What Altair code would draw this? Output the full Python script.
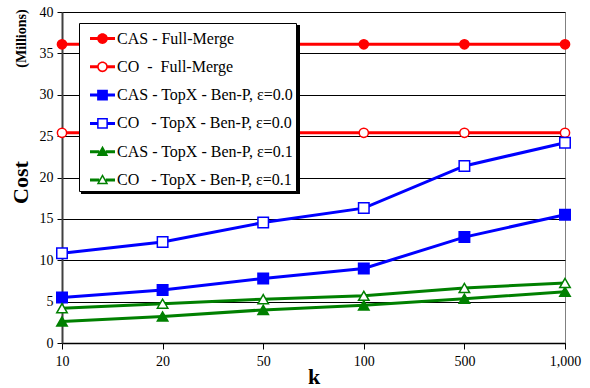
import altair as alt
import pandas as pd

# ---- data ----
k_labels = ["10", "20", "50", "100", "500", "1,000"]

series_names = [
    "CAS - Full-Merge",
    "CO\u00a0 -\u00a0 Full-Merge",
    "CAS - TopX - Ben-P, \u03b5=0.0",
    "CO\u00a0\u00a0 - TopX - Ben-P, \u03b5=0.0",
    "CAS - TopX - Ben-P, \u03b5=0.1",
    "CO\u00a0\u00a0 - TopX - Ben-P, \u03b5=0.1",
]

cas_full_merge = [36.1, 36.1, 36.1, 36.1, 36.1, 36.1]
co_full_merge = [25.4, 25.4, 25.4, 25.4, 25.4, 25.4]
cas_topx_e00 = [5.5, 6.4, 7.8, 9.0, 12.8, 15.5]
co_topx_e00 = [10.85, 12.2, 14.55, 16.3, 21.4, 24.2]
cas_topx_e01 = [2.6, 3.2, 4.0, 4.55, 5.35, 6.2]
co_topx_e01 = [4.2, 4.75, 5.3, 5.7, 6.65, 7.25]

all_values = [cas_full_merge, co_full_merge, cas_topx_e00,
              co_topx_e00, cas_topx_e01, co_topx_e01]

rows = []
for name, vals in zip(series_names, all_values):
    for k, v in zip(k_labels, vals):
        rows.append({"k": k, "cost": v, "series": name})
df = pd.DataFrame(rows)

# ---- styles ----
FONT = "Liberation Serif"
line_colors = ["#FF0000", "#FF0000", "#0000FF", "#0000FF", "#008000", "#008000"]
fill_colors = ["#FF0000", "#FFFFFF", "#0000FF", "#FFFFFF", "#008000", "#FFFFFF"]
point_shapes = ["circle", "circle", "square", "square", "triangle-up", "triangle-up"]
point_sizes = {"circle": 85, "square": 110, "triangle-up": 110}

# legend glyphs: line segment + marker, all drawn as filled geometry
bar_c = "M-1,-0.12L-0.41,-0.12L-0.41,0.12L-1,0.12ZM0.41,-0.12L1,-0.12L1,0.12L0.41,0.12Z"
bar_t = "M-1,-0.12L-0.26,-0.12L-0.26,0.12L-1,0.12ZM0.26,-0.12L1,-0.12L1,0.12L0.26,0.12Z"
circ_o = "M0.43,0A0.43,0.43,0,1,1,-0.43,0A0.43,0.43,0,1,1,0.43,0Z"
circ_i = "M0.3,0A0.3,0.3,0,1,0,-0.3,0A0.3,0.3,0,1,0,0.3,0Z"
sq_o = "M-0.43,-0.43L0.43,-0.43L0.43,0.43L-0.43,0.43Z"
sq_i = "M-0.31,-0.31L-0.31,0.31L0.31,0.31L0.31,-0.31Z"
tri_o = "M0,-0.48L0.46,0.34L-0.46,0.34Z"
tri_i = "M0,-0.234L-0.255,0.22L0.255,0.22Z"
legend_shapes = [
    bar_c + circ_o,
    bar_c + circ_o + circ_i,
    bar_c + sq_o,
    bar_c + sq_o + sq_i,
    bar_t + tri_o,
    bar_t + tri_o + tri_i,
]

color_scale = alt.Scale(domain=series_names, range=line_colors)
shape_scale = alt.Scale(domain=series_names, range=legend_shapes)

x_enc = alt.X(
    "k:O", sort=k_labels,
    scale=alt.Scale(type="point", padding=0),
    axis=alt.Axis(
        title="k", labelAngle=0, labelFont=FONT, labelFontSize=14,
        labelColor="black", labelPadding=5, tickSize=6, tickColor="black",
        domainColor="black", domainWidth=1.5, grid=False,
        titleFont=FONT, titleFontSize=22, titleFontWeight="bold",
        titleColor="black", titleY=40, titleBaseline="alphabetic",
    ),
)
y_enc = alt.Y(
    "cost:Q",
    scale=alt.Scale(domain=[0, 40], nice=False),
    axis=alt.Axis(
        title="Cost", values=[0, 5, 10, 15, 20, 25, 30, 35, 40],
        labelFont=FONT, labelFontSize=14, labelColor="black", labelPadding=4,
        tickSize=5, tickColor="black", domainColor="#404040", domainWidth=2,
        grid=True, gridColor="black", gridWidth=1,
        titleFont=FONT, titleFontSize=22, titleFontWeight="bold",
        titleColor="black", titleAngle=270, titleX=-41.5, titleY=170,
        titleAlign="center", titleBaseline="middle",
    ),
)

base = alt.Chart(df)

line_layers = []
point_layers = []
for name, col, fcol, shp in zip(series_names, line_colors, fill_colors, point_shapes):
    sub = base.transform_filter(alt.FieldOneOfPredicate(field="series", oneOf=[name]))
    line_layers.append(
        sub.mark_line(strokeWidth=3, color=col).encode(x=x_enc, y=y_enc)
    )
    point_layers.append(
        sub.mark_point(shape=shp, size=point_sizes[shp], strokeWidth=1.5,
                       stroke=col, fill=fcol, fillOpacity=1, opacity=1)
        .encode(x=x_enc, y=y_enc)
    )

legend_spec = alt.Legend(
    orient="none", legendX=17, legendY=11, title=None,
    fillColor="white", strokeColor="black", padding=3,
    symbolSize=625, symbolStrokeWidth=0, symbolOffset=8, symbolOpacity=1,
    labelFont=FONT, labelFontSize=16, labelColor="black", labelOffset=2,
    labelLimit=400, rowPadding=7.3,
)

# legend-only layer: no rows drawn, the legend is built from the scale domain
legend_layer = base.transform_filter("false").mark_point(filled=True, opacity=1).encode(
    x=x_enc, y=y_enc,
    color=alt.Color("series:N", scale=color_scale, legend=legend_spec),
    shape=alt.Shape("series:N", scale=shape_scale, legend=legend_spec),
)

# drop shadow behind the legend box
shadow = alt.Chart(pd.DataFrame({"s": [0]})).mark_rect(color="black").encode(
    x=alt.value(19), x2=alt.value(238), y=alt.value(13), y2=alt.value(182)
)

millions = alt.Chart(pd.DataFrame({"t": ["(Millions)"]})).mark_text(
    angle=270, font=FONT, fontSize=14, fontWeight="bold",
    align="center", baseline="middle", color="black",
).encode(text="t:N", x=alt.value(-40), y=alt.value(26.5))

chart = alt.layer(*line_layers, *point_layers, legend_layer, shadow, millions).properties(
    width=503, height=331,
    autosize=alt.AutoSizeParams(type="none"),
    padding={"left": 62, "top": 12, "right": 25, "bottom": 45},
).configure(font=FONT).configure_view(
    stroke="#808080", strokeWidth=1
).configure_legend(labelFont=FONT).configure_axis(labelFont=FONT, titleFont=FONT)

chart.save("out.html", embed_options={"renderer": "svg", "actions": False})
